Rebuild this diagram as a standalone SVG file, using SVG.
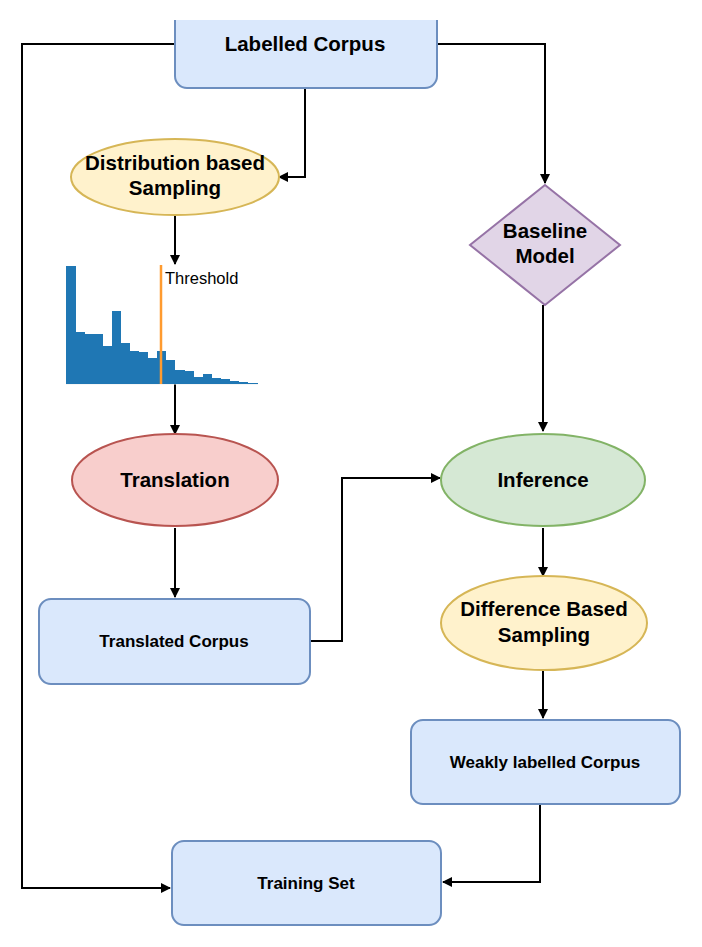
<svg xmlns="http://www.w3.org/2000/svg" width="702" height="947" viewBox="0 0 702 947">
<style>
.box{fill:#dae8fc;stroke:#6c8ebf;stroke-width:2}
.t{font-family:"Liberation Sans",Arial,sans-serif;font-weight:bold;text-anchor:middle;fill:#000}
.c{fill:none;stroke:#000;stroke-width:2}
</style>
<defs><marker id="a" markerWidth="10" markerHeight="10" refX="9" refY="5" orient="auto" markerUnits="userSpaceOnUse"><path d="M0,0L10,5L0,10Z" fill="#000"/></marker></defs>
<rect width="702" height="947" fill="#fff"/>
<g id="connectors">
<path class="c" d="M175,44H22V888H170" marker-end="url(#a)"/>
<path class="c" d="M437,44H545V183" marker-end="url(#a)"/>
<path class="c" d="M305,88V177H279" marker-end="url(#a)"/>
<path class="c" d="M175,215V264" marker-end="url(#a)"/>
<path class="c" d="M175,384V434" marker-end="url(#a)"/>
<path class="c" d="M175,528V597" marker-end="url(#a)"/>
<path class="c" d="M310,641H342V478H440" marker-end="url(#a)"/>
<path class="c" d="M543,305V431" marker-end="url(#a)"/>
<path class="c" d="M543,528V576" marker-end="url(#a)"/>
<path class="c" d="M543,670V718" marker-end="url(#a)"/>
<path class="c" d="M540,805V882H443" marker-end="url(#a)"/>
</g>
<g id="labelled"><rect class="box" x="175" y="5" width="262" height="83" rx="12"/><rect x="170" y="0" width="272" height="20" fill="#fff"/><text class="t" x="305" y="51" font-size="20.5">Labelled Corpus</text></g>
<g id="dist"><ellipse cx="175" cy="177" rx="104" ry="38" fill="#fff2cc" stroke="#d6b656" stroke-width="2"/><text class="t" x="175" y="170" font-size="20.5">Distribution based</text><text class="t" x="175" y="195" font-size="20.5">Sampling</text></g>
<g id="histogram">
<line x1="66" y1="384" x2="258" y2="384" stroke="#eee"/>
<path fill="#1f77b4" d="M66,384V266H76V332H85V334H103V346H112V311H121V343H130V351H139V352H148V358H157V351H166V360H175V370H185V371H194V377H203V374H212V378H221V379H230V381H239V382H248V383H258V384Z"/>
<line x1="161" y1="265" x2="161" y2="384" stroke="#ff9b2f" stroke-width="2.5"/>
<text x="165" y="284" font-family="Liberation Sans,Arial,sans-serif" font-size="16.5">Threshold</text>
</g>
<g id="translation"><ellipse cx="175" cy="480" rx="103" ry="46" fill="#f8cecc" stroke="#b85450" stroke-width="2"/><text class="t" x="175" y="487" font-size="20.5">Translation</text></g>
<g id="translated"><rect class="box" x="39" y="599" width="271" height="85" rx="12"/><text class="t" x="174" y="647" font-size="17">Translated Corpus</text></g>
<g id="baseline"><polygon points="545,185 620,245 545,305 470,245" fill="#e1d5e7" stroke="#9673a6" stroke-width="2"/><text class="t" x="545" y="238" font-size="20.5">Baseline</text><text class="t" x="545" y="263" font-size="20.5">Model</text></g>
<g id="inference"><ellipse cx="543" cy="480" rx="102" ry="46" fill="#d5e8d4" stroke="#82b366" stroke-width="2"/><text class="t" x="543" y="487" font-size="20.5">Inference</text></g>
<g id="diff"><ellipse cx="544" cy="623" rx="103" ry="47" fill="#fff2cc" stroke="#d6b656" stroke-width="2"/><text class="t" x="544" y="616" font-size="20.5">Difference Based</text><text class="t" x="544" y="642" font-size="20.5">Sampling</text></g>
<g id="weak"><rect class="box" x="411" y="720" width="269" height="84" rx="12"/><text class="t" x="545" y="768" font-size="17">Weakly labelled Corpus</text></g>
<g id="training"><rect class="box" x="172" y="841" width="269" height="84" rx="12"/><text class="t" x="306" y="889" font-size="17">Training Set</text></g>
</svg>
